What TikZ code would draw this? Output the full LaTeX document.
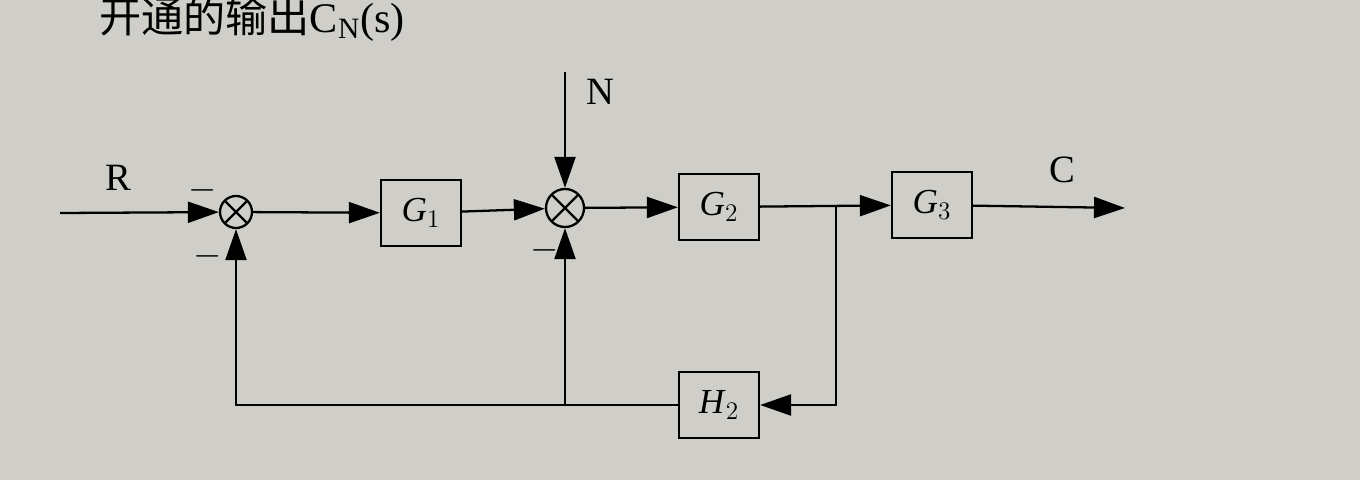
\documentclass[tikz,border=0pt]{standalone}
\usepackage{fontspec}
\setmainfont{Liberation Serif}
\newfontfamily\cjk{Noto Sans CJK SC}
\usetikzlibrary{arrows.meta}
\definecolor{paper}{RGB}{207,206,201}
\begin{document}
\begin{tikzpicture}[x=0.02cm,y=-0.02cm,line width=1.3pt,
  blk/.style={draw,line width=1.3pt,minimum width=1.6cm,minimum height=1.32cm,inner sep=0pt,font=\fontsize{20}{22}\selectfont},
  sum/.style={draw,circle,line width=1.3pt,inner sep=0pt,path picture={\draw[line width=1.3pt] (path picture bounding box.north west)--(path picture bounding box.south east) (path picture bounding box.north east)--(path picture bounding box.south west);}},
  arr/.style={-{Triangle[length=0.62cm,width=0.42cm]}},
  lbl/.style={font=\fontsize{22}{24}\selectfont}]
\fill[paper] (0,0) rectangle (1360,480);
\clip (0,0) rectangle (1360,480);
\node[anchor=base west,inner sep=0pt,font=\fontsize{24}{24}\selectfont] (title) at (98,32) {{\cjk 开通的输出}C\textsubscript{N}(s)};

\node[sum,minimum size=0.64cm] (s1) at (236,212) {};
\node[blk] (G1) at (421,213) {\textit{G}$_1$};
\node[sum,minimum size=0.76cm] (s2) at (565,208) {};
\node[blk] (G2) at (719,207) {\textit{G}$_2$};
\node[blk] (G3) at (932,205) {\textit{G}$_3$};
\node[blk] (H2) at (719,405) {\textit{H}$_2$};

\coordinate (in) at (60,213);
\coordinate (ntop) at (565,72);
\coordinate (out) at (1125,208);
\coordinate (br) at (836,207);
\coordinate (j) at (s2 |- H2);

\node[lbl] (R) at (118,178) {R};
\node[lbl] (N) at (600,92) {N};
\node[lbl] (C) at (1062,170) {C};
\node[lbl] (m1) at (203,190) {$-$};
\node[lbl] (m2) at (208,256) {$-$};
\node[lbl] (m3) at (545,250) {$-$};

\draw[arr] (in) -- (s1);
\draw[arr] (s1) -- (G1);
\draw[arr] (G1) -- (s2);
\draw[arr] (ntop) -- (s2);
\draw[arr] (s2) -- (G2);
\draw[arr] (G2) -- (G3);
\draw[arr] (G3) -- (out);
\draw[arr] (br) |- (H2);
\draw[arr] (H2) -| (s1);
\draw[arr] (j) -- (s2);
\end{tikzpicture}
\end{document}
